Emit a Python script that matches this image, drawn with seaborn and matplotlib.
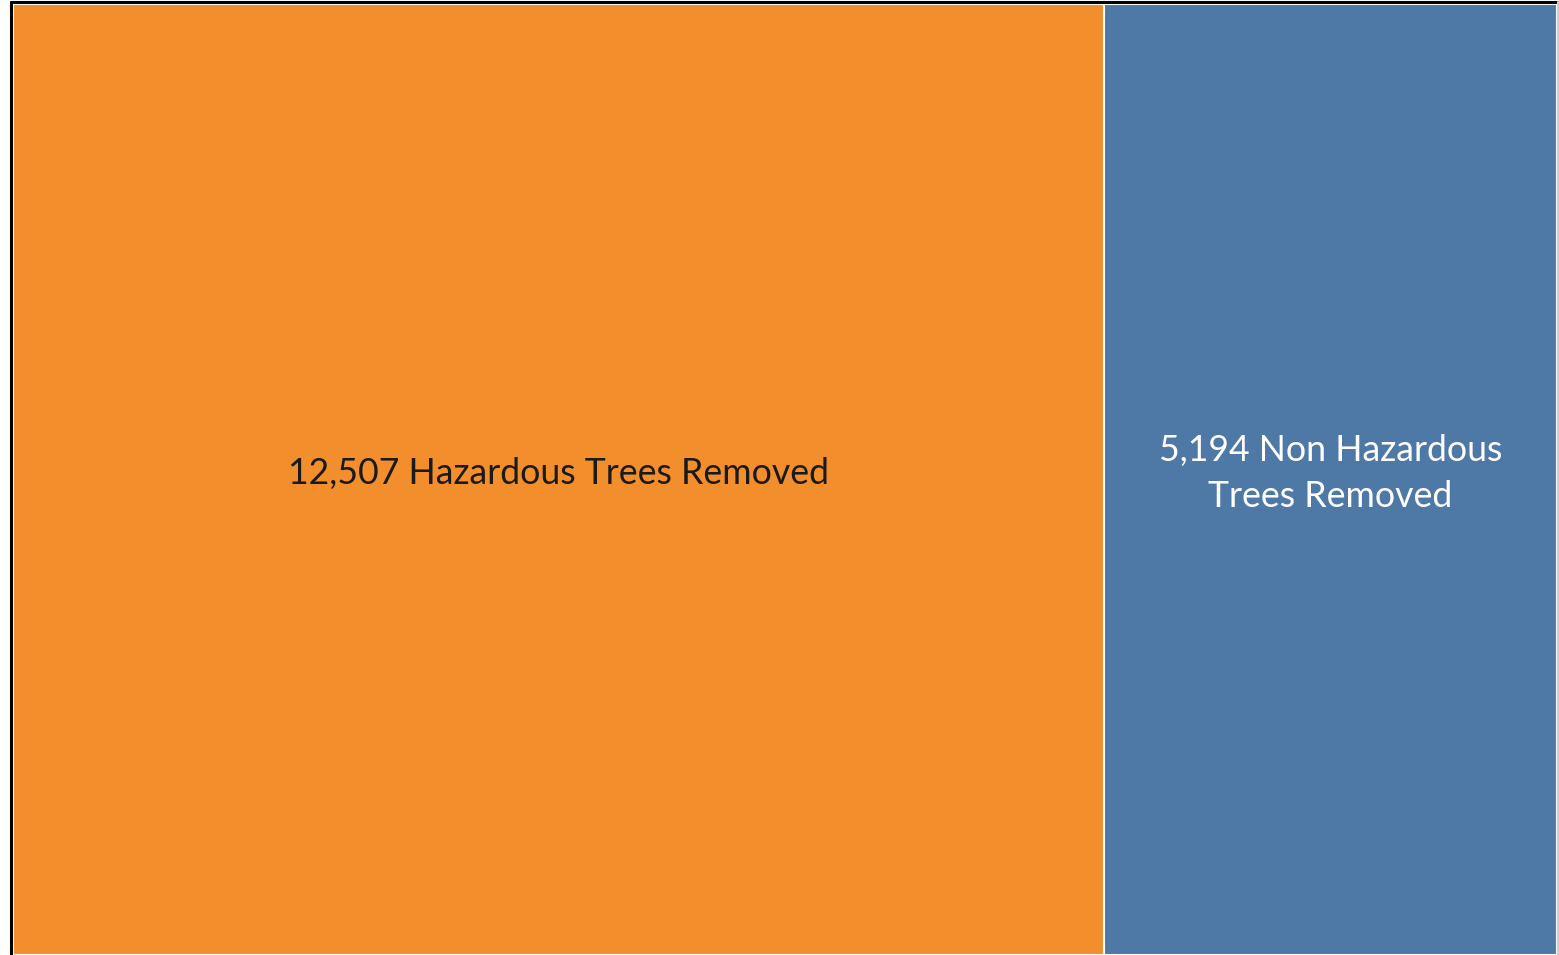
import numpy as np
import matplotlib
matplotlib.use("Agg")
import matplotlib.pyplot as plt
import pandas as pd
import seaborn as sns

# Data
categories = ["Hazardous", "Non Hazardous"]
counts = [12507, 5194]
labels = ["12,507 Hazardous Trees Removed", "5,194 Non Hazardous\nTrees Removed"]
colors = ["#F28E2B", "#4E79A7"]
text_colors = ["#1a1a1a", "#ffffff"]

sns.set_theme(style="white")
plt.rcParams["font.family"] = ["Lato", "DejaVu Sans"]

W, H = 1559, 955
fig = plt.figure(figsize=(W / 100, H / 100), dpi=100)
ax = fig.add_axes([13 / W, 0, (1557 - 13) / W, (H - 4) / H])

# cumulative ends, drawn back to front so each segment shows
ends = np.cumsum(counts)
df = pd.DataFrame({"row": ["all"] * len(counts), "end": ends, "cat": categories})
for i in reversed(range(len(counts))):
    sns.barplot(data=df.iloc[[i]], x="end", y="row", orient="h", color=colors[i],
                width=1.0, saturation=1, edgecolor="white", linewidth=1.5, ax=ax)

ax.set_xlim(0, ends[-1])
ax.set_ylim(0.5, -0.5)
starts = ends - np.array(counts)
for i, lab in enumerate(labels):
    ax.text((starts[i] + ends[i]) / 2, -0.006, lab, ha="center", va="center",
            color=text_colors[i], fontsize=25.7, linespacing=1.48)

ax.set_axis_off()

# outer frame
fig.add_artist(plt.Line2D([10.5 / W, 10.5 / W], [0, 1 - 2.5 / H], color="black", lw=2.2))
fig.add_artist(plt.Line2D([10.5 / W, 1 - 0.5 / W], [1 - 2.5 / H, 1 - 2.5 / H], color="black", lw=2.2))
fig.add_artist(plt.Line2D([1557.5 / W, 1557.5 / W], [0, 1 - 2.5 / H], color="#cfcfcf", lw=1.5))

fig.savefig("out.png", dpi=100, facecolor="white")
